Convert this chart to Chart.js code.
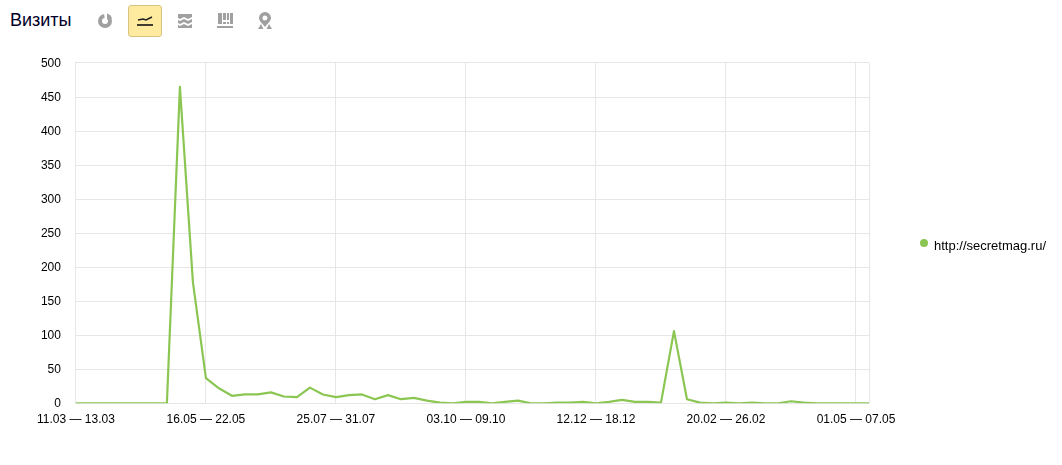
<!DOCTYPE html>
<html>
<head>
<meta charset="utf-8">
<title>Визиты</title>
<script src="https://cdn.jsdelivr.net/npm/chart.js@4/dist/chart.umd.min.js"></script>
<style>
  html, body { margin: 0; padding: 0; background: #fff; overflow: hidden; }
  body { width: 1062px; height: 465px; position: relative; font-family: "Liberation Sans", Arial, sans-serif; color: #000; }
  #chart { position: absolute; left: 0; top: 0; }
  .title { position: absolute; left: 10px; top: 10px; font-size: 18px; line-height: 20px; color: #000028; }
  .active { position: absolute; left: 128px; top: 5px; width: 34px; height: 32px; box-sizing: border-box; background: #ffeba0; border: 1px solid #d9c37e; border-radius: 3px; }
  .icons { position: absolute; left: 0; top: 0; }
  .legend { position: absolute; left: 920px; top: 238px; font-size: 13px; line-height: 15px; white-space: nowrap; }
  .legend i { position: absolute; left: 0; top: 1px; width: 8px; height: 8px; border-radius: 50%; }
  .legend span { margin-left: 14px; }
</style>
</head>
<body>
<div class="title">Визиты</div>
<div class="active"></div>
<svg class="icons" width="300" height="40">
  <!-- pie -->
  <circle cx="105" cy="21" r="5" fill="none" stroke="#a0a0a0" stroke-width="4"/>
  <path d="M105 21l-1-8h8z" fill="#fff"/>
  <path d="M107 13.5a7.5 7.5 0 0 1 5 5l-5 1z" fill="#a0a0a0"/>
  <!-- line, active -->
  <path d="M138 20l5-1 3 1 6-3" fill="none" stroke="#222" stroke-width="1.6"/>
  <path d="M137 25h16" stroke="#111" stroke-width="1.6"/>
  <!-- stacked areas -->
  <path d="M178 14h14v3l-4 2-4-2-4 2-2-1zM178 20l2 1 4-2 4 2 4-2v3l-4 2-4-2-4 2-2-1zM178 25l2 1 4-2 4 2 4-2v4h-14z" fill="#a0a0a0"/>
  <!-- table bars -->
  <path d="M218 13h4v11h-4zM223 13h3v7h-3zM223 22h3v2h-3zM227 13h2v7h-2zM227 22h2v2h-2zM230 13h3v11h-3zM217 26h16v2h-16z" fill="#a0a0a0"/>
  <!-- map pin -->
  <path fill-rule="evenodd" d="M265 12a6 6 0 0 1 6 6c0 3-3 5-6 9-3-4-6-6-6-9a6 6 0 0 1 6-6zM265 15.500a2.500 2.500 0 1 0 0 5 2.500 2.500 0 0 0 0-5z" fill="#a0a0a0"/>
  <path d="M258 29l3-5 2.500 5zM266.500 29l2.500-5 3 5z" fill="#a0a0a0"/>
</svg>
<canvas id="chart" width="1062" height="465"></canvas>
<div class="legend" id="legend"></div>
<script>
/* data */
const weeks = [
  '11.03 — 13.03','14.03 — 20.03','21.03 — 27.03','28.03 — 03.04','04.04 — 10.04','11.04 — 17.04','18.04 — 24.04','25.04 — 01.05',
  '02.05 — 08.05','09.05 — 15.05','16.05 — 22.05','23.05 — 29.05','30.05 — 05.06','06.06 — 12.06','13.06 — 19.06','20.06 — 26.06',
  '27.06 — 03.07','04.07 — 10.07','11.07 — 17.07','18.07 — 24.07','25.07 — 31.07','01.08 — 07.08','08.08 — 14.08','15.08 — 21.08',
  '22.08 — 28.08','29.08 — 04.09','05.09 — 11.09','12.09 — 18.09','19.09 — 25.09','26.09 — 02.10','03.10 — 09.10','10.10 — 16.10',
  '17.10 — 23.10','24.10 — 30.10','31.10 — 06.11','07.11 — 13.11','14.11 — 20.11','21.11 — 27.11','28.11 — 04.12','05.12 — 11.12',
  '12.12 — 18.12','19.12 — 25.12','26.12 — 01.01','02.01 — 08.01','09.01 — 15.01','16.01 — 22.01','23.01 — 29.01','30.01 — 05.02',
  '06.02 — 12.02','13.02 — 19.02','20.02 — 26.02','27.02 — 05.03','06.03 — 12.03','13.03 — 19.03','20.03 — 26.03','27.03 — 02.04',
  '03.04 — 09.04','10.04 — 16.04','17.04 — 23.04','24.04 — 30.04','01.05 — 07.05','08.05 — 10.05'
];
const visits = [
  0, 0, 0, 0, 0, 0, 0, 0, 465, 178,
  37, 22, 11, 13, 13, 16, 10, 9, 23, 13,
  9, 12, 13, 6, 12, 6, 8, 4, 1, 0,
  2, 2, 0, 2, 4, 0, 0, 1, 1, 2,
  0, 2, 5, 2, 2, 1, 106, 6, 1, 0,
  1, 0, 1, 0, 0, 3, 1, 0, 0, 0,
  0, 0
];
const seriesName = 'http://secretmag.ru/';
const lineColor = '#8bc653';
const gridColor = '#e6e6e6';
const lastIndex = weeks.length - 1;

new Chart(document.getElementById('chart'), {
  type: 'line',
  data: {
    labels: weeks,
    datasets: [{ label: seriesName, data: visits, borderColor: lineColor, borderWidth: 2.2, borderJoinStyle: 'round', pointRadius: 0, tension: 0, fill: false }]
  },
  options: {
    responsive: false,
    animation: false,
    layout: { padding: { left: 0, top: 62.99, right: 193, bottom: 0 } },
    plugins: { legend: { display: false }, tooltip: { enabled: false } },
    scales: {
      x: {
        grid: { color: gridColor, drawTicks: false },
        border: { color: gridColor },
        afterFit: s => { s.height = 61.7; },
        // a grid line every 10 weeks, plus the closing edge of the plot
        afterBuildTicks: s => { s.ticks = s.ticks.filter(t => t.value % 10 === 0 || t.value === lastIndex); },
        ticks: {
          autoSkip: false, maxRotation: 0, padding: 9, color: '#000',
          font: { family: 'Liberation Sans', size: 12 },
          callback: function (v) { return v === lastIndex ? '' : this.getLabelForValue(v); }
        }
      },
      y: {
        min: 0, max: 500,
        grid: { color: gridColor, drawTicks: false },
        border: { color: gridColor },
        afterFit: s => { s.width = 75.9; },
        ticks: { stepSize: 50, padding: 15, labelOffset: 0.5, color: '#000', font: { family: 'Liberation Sans', size: 12 } }
      }
    }
  }
});

document.getElementById('legend').innerHTML = '<i style="background:' + lineColor + '"></i><span>' + seriesName + '</span>';
</script>
</body>
</html>
